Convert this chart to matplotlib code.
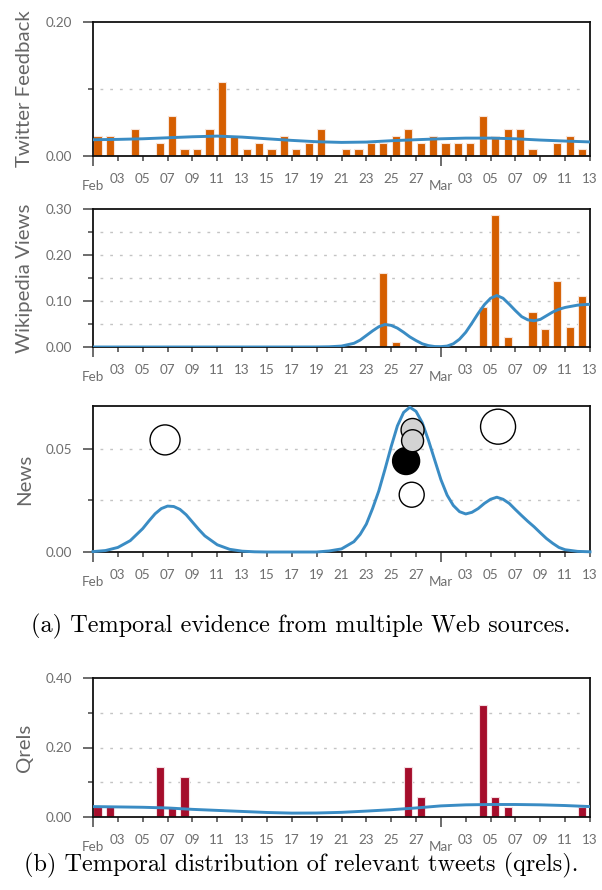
import matplotlib
matplotlib.use('Agg')
import matplotlib.pyplot as plt
from matplotlib.ticker import FixedLocator, FixedFormatter

plt.rcParams['font.family'] = 'Lato'

# days counted from Feb 01 (day 0) to Mar 13 (day 40)
month_days = [0, 28]
month_labels = ['Feb', 'Mar']
date_days = [2, 4, 6, 8, 10, 12, 14, 16, 18, 20, 22, 24, 26,
             30, 32, 34, 36, 38, 40]
date_labels = ['03', '05', '07', '09', '11', '13', '15', '17', '19', '21',
               '23', '25', '27', '03', '05', '07', '09', '11', '13']

# Twitter feedback, one bar per day (Feb 01 .. Mar 12)
twitter_days = list(range(40))
twitter_vals = [0.03, 0.03, 0, 0.04, 0, 0.02, 0.06, 0.01, 0.01, 0.04,
                0.11, 0.03, 0.01, 0.02, 0.01, 0.03, 0.01, 0.02, 0.04, 0,
                0.01, 0.01, 0.02, 0.02, 0.03, 0.04, 0.02, 0.03, 0.02, 0.02,
                0.02, 0.06, 0.03, 0.04, 0.04, 0.01, 0, 0.02, 0.03, 0.01]
twitter_curve_x = [0, 2, 4, 6, 8, 10, 12, 14, 16, 18, 20, 22, 24, 26, 28,
                   30, 32, 34, 36, 38, 40]
twitter_curve_y = [0.0243, 0.0248, 0.0257, 0.0272, 0.0287, 0.0297, 0.0282,
                   0.0257, 0.0233, 0.0213, 0.0203, 0.0208, 0.0228, 0.0243,
                   0.0257, 0.0267, 0.0267, 0.0257, 0.0238, 0.0223, 0.0210]

# Wikipedia views
wiki_days = [23, 24, 31, 32, 33, 35, 36, 37, 38, 39]
wiki_vals = [0.16, 0.01, 0.088, 0.288, 0.021, 0.076, 0.04, 0.144, 0.043, 0.111]
wiki_curve_x = [0, 5, 10, 15, 18, 19, 20, 21, 21.5, 22, 22.5, 23, 23.5, 24,
                24.5, 25, 25.5, 26, 26.5, 27, 27.5, 28, 28.5, 29, 29.5, 30,
                30.5, 31, 31.5, 32, 32.5, 33, 33.5, 34, 34.5, 35, 35.5, 36,
                36.5, 37, 37.5, 38, 39, 40]
wiki_curve_y = [0, 0, 0, 0, 0.0001, 0.0005, 0.002, 0.008, 0.015, 0.025,
                0.035, 0.044, 0.049, 0.047, 0.041, 0.032, 0.022, 0.014,
                0.007, 0.003, 0.001, 0.0008, 0.002, 0.007, 0.017, 0.032,
                0.052, 0.073, 0.092, 0.106, 0.112, 0.106, 0.093, 0.079,
                0.066, 0.059, 0.057, 0.060, 0.068, 0.076, 0.082, 0.086,
                0.091, 0.093]

# News
news_curve_x = [0, 1, 2, 3, 4, 4.5, 5, 5.5, 6, 6.5, 7, 7.5, 8, 8.5, 9, 10,
                11, 12, 13, 14, 18, 19, 20, 21, 21.5, 22, 22.5, 23, 23.5, 24,
                24.5, 25, 25.5, 26, 26.5, 27, 27.5, 28, 28.5, 29, 29.5, 30,
                30.5, 31, 31.5, 32, 32.5, 33, 33.5, 34, 34.5, 35, 35.5, 36,
                36.5, 37, 37.5, 38, 39, 40]
news_curve_y = [0.0002, 0.0007, 0.0022, 0.0055, 0.0113, 0.015, 0.0185,
                0.0210, 0.0222, 0.0220, 0.0206, 0.018, 0.0145, 0.011, 0.0078,
                0.0035, 0.0013, 0.0004, 0.0001, 0, 0, 0.0005, 0.0015, 0.005,
                0.0085, 0.0135, 0.021, 0.0295, 0.040, 0.051, 0.061, 0.0675,
                0.070, 0.068, 0.0625, 0.054, 0.0445, 0.035, 0.0275, 0.0225,
                0.0195, 0.0184, 0.0192, 0.021, 0.0235, 0.0255, 0.0265,
                0.0255, 0.0235, 0.0205, 0.0176, 0.0148, 0.0122, 0.0093,
                0.0065, 0.0042, 0.0022, 0.0011, 0.0003, 0.0001]
news_x = [5.8, 25.2, 25.65, 25.72, 25.72, 32.6]
news_y = [0.0542, 0.044, 0.0277, 0.059, 0.0538, 0.0606]
news_size = [467, 378, 324, 274, 251, 635]
news_fill = ['white', 'black', 'white', '#d3d3d3', '#d3d3d3', 'white']

# Qrels
qrels_days = [0, 1, 5, 6, 7, 25, 26, 31, 32, 33, 39]
qrels_vals = [0.028, 0.028, 0.145, 0.028, 0.116, 0.145, 0.057, 0.321, 0.057,
              0.028, 0.028]
qrels_curve_x = [0, 2, 4, 6, 8, 10, 12, 14, 16, 18, 20, 22, 24, 26, 28, 30,
                 32, 34, 36, 38, 40]
qrels_curve_y = [0.030, 0.029, 0.028, 0.026, 0.022, 0.019, 0.016, 0.013,
                 0.0112, 0.0115, 0.0134, 0.017, 0.021, 0.026, 0.032, 0.035,
                 0.036, 0.036, 0.035, 0.033, 0.030]

W, H = 602.0, 890.0
orange = '#d55e00'
crimson = '#a50d2b'
blue = '#3a8cc4'


def make_axes(top, bottom, ymax, major, minor, ylabel):
    ax = fig.add_axes([93 / W, 1 - bottom / H, 497 / W, (bottom - top) / H])
    ax.set_xlim(0, 40)
    ax.set_ylim(0, ymax)
    for s in ax.spines.values():
        s.set_linewidth(1.3)
        s.set_color('#111111')
    ax.xaxis.set_major_locator(FixedLocator(month_days))
    ax.xaxis.set_major_formatter(FixedFormatter(month_labels))
    ax.xaxis.set_minor_locator(FixedLocator(date_days))
    ax.xaxis.set_minor_formatter(FixedFormatter(date_labels))
    ax.yaxis.set_major_locator(FixedLocator(major))
    ax.yaxis.set_major_formatter(FixedFormatter(['%.2f' % v for v in major]))
    ax.yaxis.set_minor_locator(FixedLocator(minor))
    ax.tick_params(which='major', length=7.5, width=1.1, color='#444444',
                   labelcolor='#6e6e6e', labelsize=9.7)
    ax.tick_params(which='minor', length=3.8, width=1.1, color='#444444',
                   labelcolor='#6e6e6e', labelsize=9.7)
    ax.tick_params(axis='x', which='major', pad=9.5)
    ax.tick_params(axis='x', which='minor', pad=8.5)
    ax.tick_params(axis='y', which='major', pad=7.5)
    for g in sorted(major + minor):
        if 0 < g < ymax:
            ax.axhline(g, xmin=0.014, xmax=0.988, color='#c4c4c4', lw=1.0,
                       ls=(0, (2, 5)), zorder=0)
    ax.set_ylabel(ylabel, fontsize=14.7, color='#666666')
    ax.yaxis.set_label_coords(-0.12, 0.5)
    return ax


fig = plt.figure(figsize=(W / 100, H / 100), dpi=100)

# Twitter feedback
ax1 = make_axes(22, 156, 0.20, [0, 0.20], [0.10], 'Twitter Feedback')
bx = [d + 0.04 for d, v in zip(twitter_days, twitter_vals) if v > 0]
bv = [v for v in twitter_vals if v > 0]
ax1.bar(bx, bv, width=0.66, align='edge', color=orange,
        edgecolor='#f7e4da', linewidth=0.8, zorder=2)
ax1.plot(twitter_curve_x, twitter_curve_y, color=blue, lw=2.1, zorder=3)

# Wikipedia views
ax2 = make_axes(209, 347, 0.30, [0, 0.10, 0.20, 0.30], [0.05, 0.15, 0.25],
                'Wikipedia Views')
ax2.bar([d + 0.04 for d in wiki_days], wiki_vals, width=0.66, align='edge',
        color=orange, edgecolor='#f7e4da', linewidth=0.8, zorder=2)
ax2.plot(wiki_curve_x, wiki_curve_y, color=blue, lw=2.1, zorder=3)

# News
ax3 = make_axes(406, 552, 0.0706, [0, 0.05], [0.025], 'News')
ax3.plot(news_curve_x, news_curve_y, color=blue, lw=2.1, zorder=3,
         clip_on=False)
ax3.scatter(news_x, news_y, s=news_size, c=news_fill, edgecolors='black',
            linewidths=1.0, zorder=4)

# Qrels
ax4 = make_axes(678, 817, 0.40, [0, 0.20, 0.40], [0.10, 0.30], 'Qrels')
ax4.bar([d + 0.04 for d in qrels_days], qrels_vals, width=0.66, align='edge',
        color=crimson, edgecolor='#f3dde2', linewidth=0.8, zorder=2)
ax4.plot(qrels_curve_x, qrels_curve_y, color=blue, lw=2.1, zorder=3)

fig.text(0.5, 1 - 626 / H, '(a) Temporal evidence from multiple Web sources.',
         ha='center', va='center', family='cmr10', fontsize=17.5)
fig.text(0.5, 1 - 865 / H,
         '(b) Temporal distribution of relevant tweets (qrels).',
         ha='center', va='center', family='cmr10', fontsize=17.5)

fig.savefig('out.png', dpi=100)
